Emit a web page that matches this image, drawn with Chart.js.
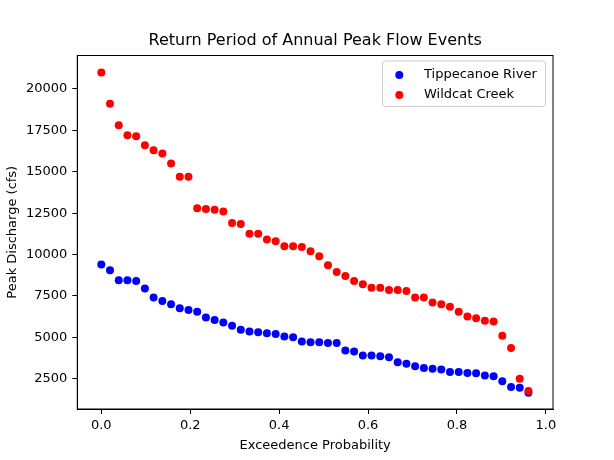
<!DOCTYPE html>
<html>
<head>
<meta charset="utf-8">
<script src="https://cdn.jsdelivr.net/npm/chart.js@4/dist/chart.umd.min.js"></script>
<style>
  html, body { margin: 0; padding: 0; background: #fff; }
  canvas { display: block; }
</style>
</head>
<body>
<canvas id="chart" width="614" height="460"></canvas>
<script>
// data
const chartTitle = "Return Period of Annual Peak Flow Events";
const xTitle = "Exceedence Probability";
const yTitle = "Peak Discharge (cfs)";
const seriesNames = ["Tippecanoe River", "Wildcat Creek"];
const seriesColors = ["#0000ff", "#ff0000"];
const xTicks = [0, 0.2, 0.4, 0.6, 0.8, 1.0];
const yTicks = [2500, 5000, 7500, 10000, 12500, 15000, 17500, 20000];

const exceedence = [
  0, 0.0196, 0.0392, 0.0588, 0.0784, 0.0980, 0.1176, 0.1373, 0.1569, 0.1765,
  0.1961, 0.2157, 0.2353, 0.2549, 0.2745, 0.2941, 0.3137, 0.3333, 0.3529, 0.3725,
  0.3922, 0.4118, 0.4314, 0.4510, 0.4706, 0.4902, 0.5098, 0.5294, 0.5490, 0.5686,
  0.5882, 0.6078, 0.6275, 0.6471, 0.6667, 0.6863, 0.7059, 0.7255, 0.7451, 0.7647,
  0.7843, 0.8039, 0.8235, 0.8431, 0.8627, 0.8824, 0.9020, 0.9216, 0.9412, 0.9608
];
const tippecanoe = [
  9400, 9050, 8450, 8450, 8400, 7950, 7400, 7200, 7000, 6750,
  6650, 6550, 6200, 6050, 5900, 5700, 5450, 5350, 5300, 5250,
  5200, 5050, 5000, 4750, 4700, 4700, 4650, 4650, 4200, 4150,
  3900, 3900, 3850, 3800, 3500, 3400, 3250, 3150, 3100, 3050,
  2900, 2900, 2850, 2830, 2700, 2650, 2350, 2000, 1950, 1650
];
const wildcat = [
  21000, 19100, 17800, 17200, 17150, 16600, 16300, 16100, 15500, 14700,
  14700, 12800, 12750, 12700, 12600, 11900, 11850, 11250, 11250, 10900,
  10800, 10500, 10500, 10450, 10200, 9900, 9350, 8950, 8700, 8400,
  8200, 8000, 8000, 7850, 7850, 7800, 7400, 7400, 7100, 7000,
  6850, 6550, 6250, 6150, 6000, 5950, 5100, 4350, 2500, 1750
];

const FONT = "'DejaVu Sans', sans-serif";

function toPoints(xs, ys) {
  return xs.map((x, i) => ({ x: x, y: ys[i] }));
}

// frame, title and legend drawn like matplotlib
const decorations = {
  id: "decorations",
  afterDraw(chart) {
    const ctx = chart.ctx;
    const a = chart.chartArea;
    ctx.save();
    ctx.strokeStyle = "#000";
    ctx.lineWidth = 1;
    ctx.strokeRect(a.left, a.top, a.right - a.left, a.bottom - a.top);

    ctx.fillStyle = "#000";
    ctx.font = "16px " + FONT;
    ctx.textAlign = "center";
    ctx.textBaseline = "middle";
    ctx.fillText(chartTitle, (a.left + a.right) / 2, a.top - 15);

    // legend box
    const bx = 382.5, by = 61, bw = 163, bh = 45.5, r = 3;
    ctx.beginPath();
    ctx.moveTo(bx + r, by);
    ctx.arcTo(bx + bw, by, bx + bw, by + bh, r);
    ctx.arcTo(bx + bw, by + bh, bx, by + bh, r);
    ctx.arcTo(bx, by + bh, bx, by, r);
    ctx.arcTo(bx, by, bx + bw, by, r);
    ctx.closePath();
    ctx.fillStyle = "rgba(255,255,255,0.8)";
    ctx.fill();
    ctx.strokeStyle = "#cccccc";
    ctx.stroke();

    ctx.font = "13px " + FONT;
    ctx.textAlign = "left";
    seriesNames.forEach((name, i) => {
      const y = 75 + i * 20;
      ctx.fillStyle = seriesColors[i];
      ctx.beginPath();
      ctx.arc(399.3, y, 4, 0, Math.PI * 2);
      ctx.fill();
      ctx.fillStyle = "#000";
      ctx.fillText(name, 424, y);
    });
    ctx.restore();
  }
};

new Chart(document.getElementById("chart"), {
  type: "scatter",
  data: {
    datasets: [
      {
        label: seriesNames[0],
        data: toPoints(exceedence, tippecanoe),
        backgroundColor: seriesColors[0],
        borderColor: seriesColors[0],
        pointRadius: 4,
        pointHoverRadius: 4,
        borderWidth: 0,
        order: 2
      },
      {
        label: seriesNames[1],
        data: toPoints(exceedence, wildcat),
        backgroundColor: seriesColors[1],
        borderColor: seriesColors[1],
        pointRadius: 4,
        pointHoverRadius: 4,
        borderWidth: 0,
        order: 1
      }
    ]
  },
  options: {
    responsive: false,
    animation: false,
    devicePixelRatio: 1,
    layout: { padding: { top: 55.5, right: 61, bottom: 0, left: 0 } },
    plugins: {
      legend: { display: false },
      title: { display: false },
      tooltip: { enabled: false }
    },
    scales: {
      x: {
        type: "linear",
        min: -0.054,
        max: 1.016,
        afterBuildTicks: (scale) => { scale.ticks = xTicks.map((v) => ({ value: v })); },
        afterFit: (scale) => { scale.height = 51; },
        grid: { drawOnChartArea: false, drawTicks: true, tickLength: 5, tickColor: "#000" },
        border: { display: true, color: "#000", width: 1 },
        ticks: {
          color: "#000",
          padding: 4,
          maxRotation: 0,
          autoSkip: false,
          font: { family: FONT, size: 13 },
          callback: (v) => v.toFixed(1)
        },
        title: {
          display: true,
          text: xTitle,
          color: "#000",
          font: { family: FONT, size: 13 },
          padding: { top: 0, bottom: 7 }
        }
      },
      y: {
        type: "linear",
        min: 670,
        max: 22020,
        afterBuildTicks: (scale) => { scale.ticks = yTicks.map((v) => ({ value: v })); },
        afterFit: (scale) => { scale.width = 77.3; },
        grid: { drawOnChartArea: false, drawTicks: true, tickLength: 5, tickColor: "#000" },
        border: { display: true, color: "#000", width: 1 },
        ticks: {
          color: "#000",
          padding: 5,
          autoSkip: false,
          font: { family: FONT, size: 13 },
          callback: (v) => String(v)
        },
        title: {
          display: true,
          text: yTitle,
          color: "#000",
          font: { family: FONT, size: 13 },
          padding: { top: 5, bottom: 0 }
        }
      }
    }
  },
  plugins: [decorations]
});
</script>
</body>
</html>
